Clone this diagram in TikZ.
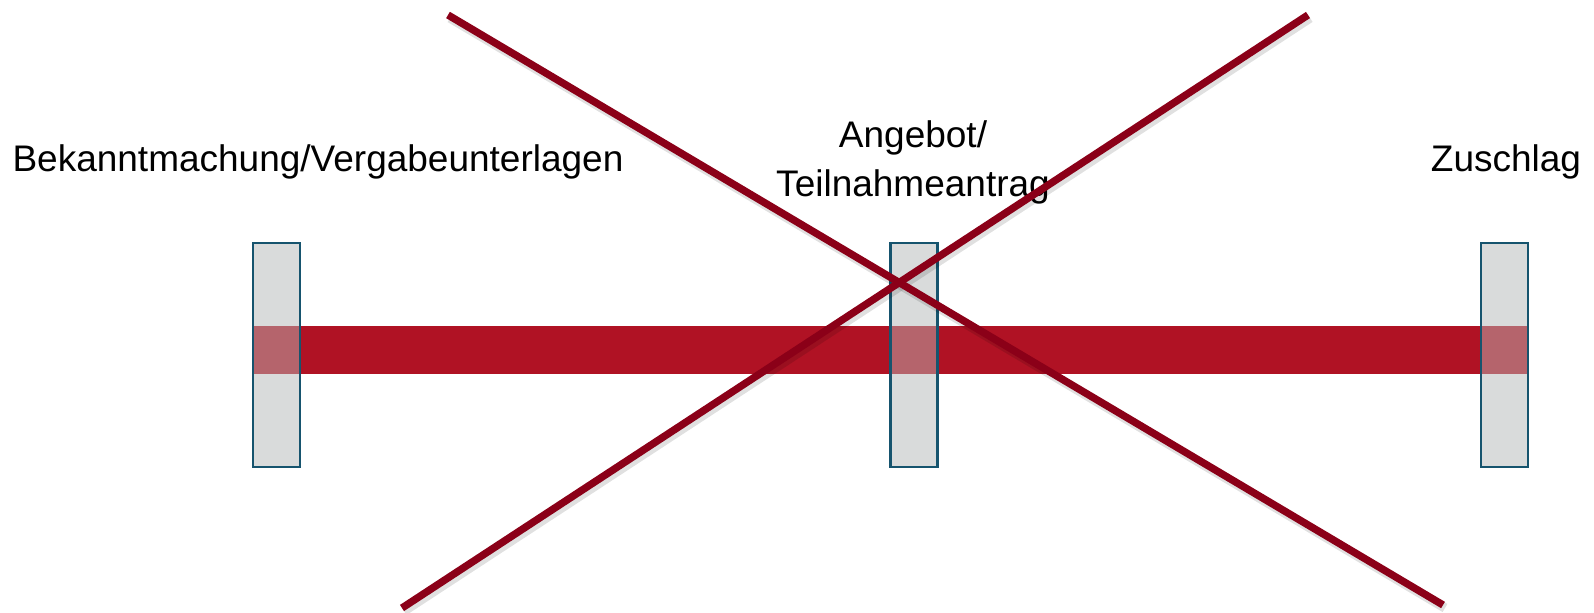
\documentclass[tikz,border=0pt]{standalone}
\usepackage{fontspec}
\setmainfont{Liberation Sans}
\definecolor{boxfill}{RGB}{217,219,219}
\definecolor{boxline}{RGB}{22,84,110}
\definecolor{barred}{RGB}{176,18,36}
\definecolor{overlapred}{RGB}{181,100,108}
\definecolor{xred}{RGB}{139,0,24}
\begin{document}
\begin{tikzpicture}[x=0.5pt,y=-0.5pt,
  phase/.style={draw=boxline, line width=1.4pt, fill=boxfill, minimum width=23.5pt,
    minimum height=112pt, inner sep=0pt, outer sep=0pt},
  border/.style={draw=boxline, line width=1.4pt},
  lbl/.style={font=\fontsize{18.5pt}{24.5pt}\selectfont, inner sep=0pt, anchor=base, align=center},
  xline/.style={draw=xred, line width=3.7pt},
  xshadow/.style={draw=black, opacity=0.12, line width=4.7pt}]
\useasboundingbox (0,0) rectangle (1594,613);
% phase boxes
\node[phase] (b1) at (276.5,355) {};
\node[phase] (b2) at (914,355) {};
\node[phase] (b3) at (1504.5,355) {};
% bar between first and last box
\fill[barred] ([yshift=14.5pt]b1.west) rectangle ([yshift=-9.5pt]b3.east);
\foreach \b in {b1,b2,b3}{
  \fill[overlapred] ([yshift=14.5pt]\b.west) rectangle ([yshift=-9.5pt]\b.east);
  \draw[border] (\b.south west) rectangle (\b.north east);
}
% labels
\node[lbl] (t1) at (318,172) {Bekanntmachung/Vergabeunterlagen};
\node[lbl] (t2) at (913,197) {Angebot/\\Teilnahmeantrag};
\node[lbl] (t3) at (1506,172) {Zuschlag};
% cross
\coordinate (x1a) at (448,15);
\coordinate (x1b) at (1443,605);
\coordinate (x2a) at (1308,15);
\coordinate (x2b) at (402,608);
\draw[xshadow] ([xshift=1pt,yshift=-1.5pt]x1a) -- ([xshift=1pt,yshift=-1.5pt]x1b);
\draw[xshadow] ([xshift=1pt,yshift=-1.5pt]x2a) -- ([xshift=1pt,yshift=-1.5pt]x2b);
\draw[xline] (x1a) -- (x1b);
\draw[xline] (x2a) -- (x2b);
\end{tikzpicture}
\end{document}
